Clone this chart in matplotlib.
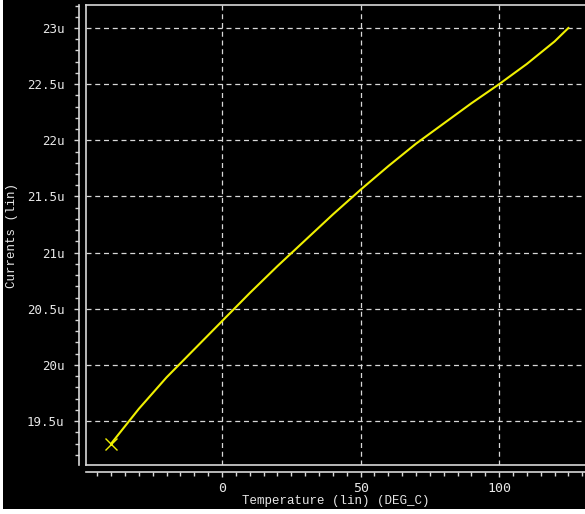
import matplotlib
matplotlib.use("Agg")
import matplotlib.pyplot as plt
from matplotlib.patches import Rectangle
from matplotlib.ticker import MultipleLocator, FuncFormatter

# Data
temperature = [-40, -30, -20, -10, 0, 10, 20, 30, 40, 50, 60, 70, 80, 90, 100, 110, 120, 125]
current_u = [19.30, 19.61, 19.89, 20.14, 20.39, 20.64, 20.88, 21.11, 21.34, 21.56,
             21.77, 21.97, 22.15, 22.33, 22.50, 22.68, 22.88, 23.00]
x_major = [0, 50, 100]
y_major = [19.5, 20.0, 20.5, 21.0, 21.5, 22.0, 22.5, 23.0]
x_label = "Temperature (lin) (DEG_C)"
y_label = "Currents (lin)"

W, H = 585, 514
fig = plt.figure(figsize=(W / 100, H / 100), dpi=100, facecolor="black")

# white borders (left and bottom) as in the screenshot
fig.patches.append(Rectangle((0, 0), 3 / W, 1, transform=fig.transFigure,
                             facecolor="white", edgecolor="none", zorder=-1))
fig.patches.append(Rectangle((0, 0), 1, 5 / H, transform=fig.transFigure,
                             facecolor="white", edgecolor="none", zorder=-1))

left, right = 86, 585
top, bottom = 5, 465
aw, ah = right - left, bottom - top
ax = fig.add_axes([left / W, 1 - bottom / H, aw / W, ah / H])
ax.set_facecolor("black")

ax.set_xlim(-49.1, 131.0)
ax.set_ylim(19.109, 23.205)

fg = "#d8d8d8"
ax.plot(temperature, current_u, color="#f0f000", lw=1.5, zorder=3)
ax.plot(temperature[0], current_u[0], marker="x", color="#f0f000", ms=9, mew=1.0, zorder=4)

ax.set_xticks(x_major)
ax.set_yticks(y_major)
ax.xaxis.set_minor_locator(MultipleLocator(5))
ax.yaxis.set_minor_locator(MultipleLocator(0.1))
ax.yaxis.set_major_formatter(FuncFormatter(lambda v, p: ("%g" % v) + "u"))

ax.grid(True, which="major", color=fg, lw=0.9, ls=(0, (4, 3)))
ax.set_axisbelow(True)

ax.spines["right"].set_visible(False)
ax.spines["top"].set_color(fg)
ax.spines["top"].set_linewidth(1.2)
for s in ["left", "bottom"]:
    ax.spines[s].set_position(("outward", 5))
    ax.spines[s].set_color(fg)
    ax.spines[s].set_linewidth(1.2)

# inner frame lines
ax.plot([0, 0], [0, 1], transform=ax.transAxes, color=fg, lw=1.2, clip_on=False, zorder=5)
ax.plot([0, 1], [0, 0], transform=ax.transAxes, color=fg, lw=1.2, clip_on=False, zorder=5)

ax.tick_params(which="both", direction="out", colors=fg, width=1)
ax.tick_params(which="major", length=3.5)
ax.tick_params(which="minor", length=3)
ax.tick_params(axis="y", which="major", pad=7, labelsize=9)
ax.tick_params(axis="x", which="major", pad=4, labelsize=9.5)
for lab in ax.get_xticklabels() + ax.get_yticklabels():
    lab.set_family("DejaVu Sans Mono")
    lab.set_color("#e8e8e8")

ax.set_xlabel(x_label, family="Liberation Mono", fontsize=9, color="#e8e8e8", va="center")
ax.set_ylabel(y_label, family="Liberation Mono", fontsize=9, color="#e8e8e8", va="center")
ax.xaxis.set_label_coords(0.5, (bottom - 501) / ah)
ax.yaxis.set_label_coords((12 - left) / aw, 0.5)

fig.savefig("out.png", dpi=100, facecolor="black")
